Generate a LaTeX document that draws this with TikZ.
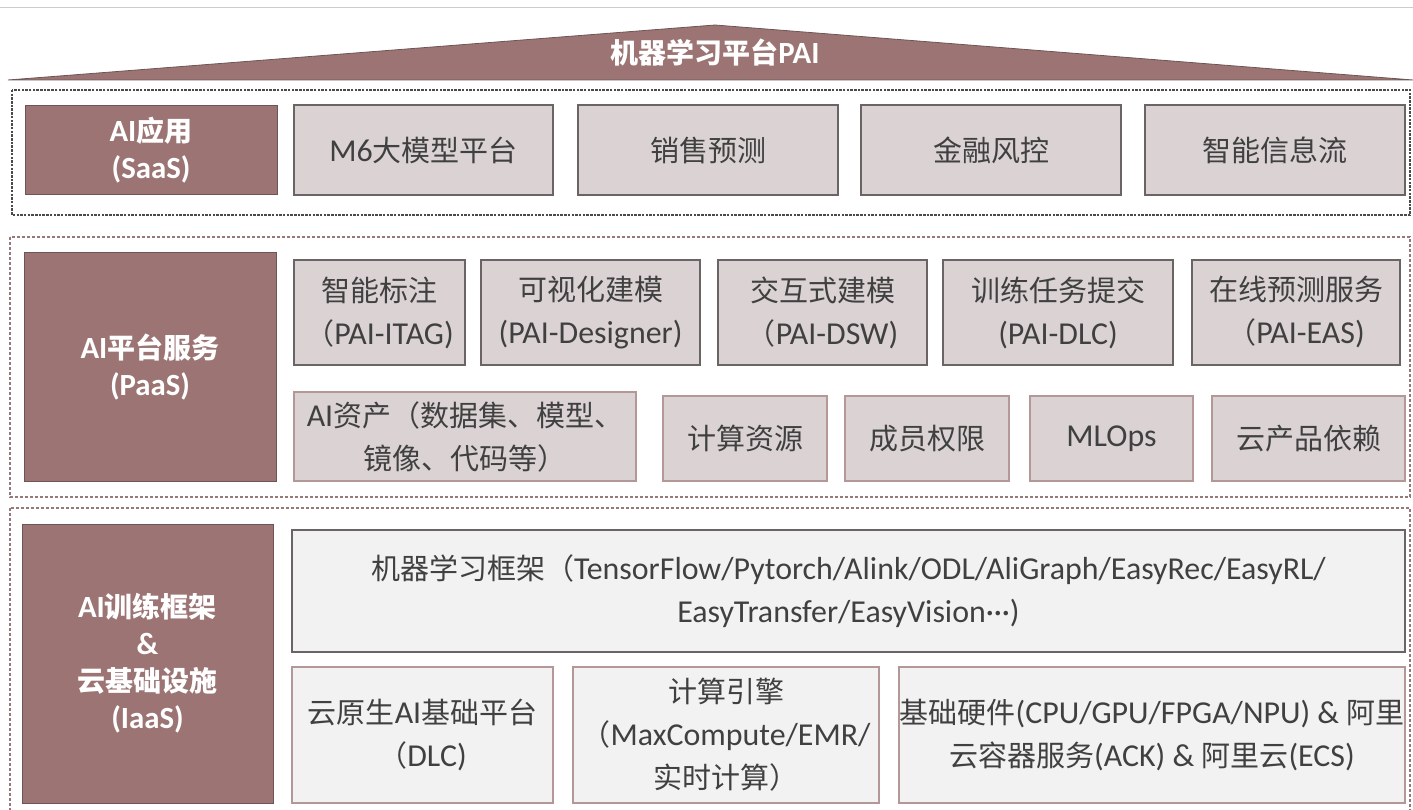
\documentclass[tikz,border=0pt]{standalone}
\usepackage{fontspec}
\setmainfont{Noto Sans CJK SC}
\newfontfamily\latf[Scale=1.1]{Carlito}
\newcommand\lat[1]{{\latf #1}}
\definecolor{mauve}{HTML}{9C7474}
\definecolor{mauvedark}{HTML}{6E5555}
\definecolor{boxfill}{HTML}{DBD3D3}
\definecolor{boxdark}{HTML}{6A6464}
\definecolor{boxpink}{HTML}{B49898}
\definecolor{lightfill}{HTML}{F2F2F2}
\definecolor{txt}{HTML}{404040}
\definecolor{dotc}{HTML}{957878}
\definecolor{dashc}{HTML}{4A4A4A}
\tikzset{
  lblbox/.style={draw=mauvedark, fill=mauve, text=white, line width=1pt, inner sep=0pt,
    font=\bfseries\fontsize{28}{37}\selectfont, align=center},
  gbox/.style={draw=boxdark, fill=boxfill, text=txt, line width=1.2pt, inner sep=0pt,
    font=\fontsize{29}{43}\selectfont, align=center},
  pbox/.style={gbox, draw=boxpink},
  lbox/.style={gbox, fill=lightfill},
  lpbox/.style={gbox, fill=lightfill, draw=boxpink},
  sec1/.style={draw=dashc, line width=1.1pt, dash pattern=on 2.5pt off 1.2pt},
  secdot/.style={draw=dotc, line width=2.6pt, dash pattern=on 2.6pt off 2.4pt},
}
\begin{document}
\begin{tikzpicture}[x=1pt,y=-1pt]
\useasboundingbox (0,0) rectangle (1413,810);
\clip (0,0) rectangle (1413,810);
% top rule
\draw[color=black!20, line width=1pt] (0,8) -- (1413,8);
% roof
\coordinate (rl) at (8,80);
\coordinate (rt) at (715,25);
\coordinate (rr) at (1413,80);
\filldraw[fill=mauve, draw=mauvedark, line width=0.8pt] (rl) -- (rt) -- (rr) -- cycle;
\node[text=white, font=\bfseries\fontsize{28}{30}\selectfont] (title) at (715,53) {机器学习平台\lat{PAI}};
% sections
\draw[sec1] (12,90) rectangle (1410,215);
\draw[secdot] (10,237) rectangle (1410,497);
\draw[secdot] (10,508) rectangle (1410,830);
% SaaS row
\node[lblbox, minimum width=252pt, minimum height=89pt] (saas) at (151,150.5) {\lat{AI}应用\\\lat{(SaaS)}};
\node[gbox, minimum width=259pt, minimum height=90pt] (m6) at (423.5,150) {\lat{M6}大模型平台};
\node[gbox, minimum width=260pt, minimum height=90pt] (xs) at (708,150) {销售预测};
\node[gbox, minimum width=260pt, minimum height=90pt] (jr) at (991,150) {金融风控};
\node[gbox, minimum width=260pt, minimum height=90pt] (zn) at (1275,150) {智能信息流};
% PaaS
\node[lblbox, minimum width=252pt, minimum height=228pt] (paas) at (150,367) {\lat{AI}平台服务\\\lat{(PaaS)}};
\node[gbox, minimum width=171pt, minimum height=105pt] (bz) at (379.5,312.5) {智能标注\\（\lat{PAI-ITAG)}};
\node[gbox, minimum width=219pt, minimum height=105pt] (ksh) at (590.5,312.5) {可视化建模\\\lat{(PAI-Designer)}};
\node[gbox, minimum width=209pt, minimum height=105pt] (jhs) at (822.5,312.5) {交互式建模\\（\lat{PAI-DSW)}};
\node[gbox, minimum width=230pt, minimum height=105pt] (xl) at (1058,312.5) {训练任务提交\\\lat{(PAI-DLC)}};
\node[gbox, minimum width=208pt, minimum height=105pt] (zx) at (1296,312.5) {在线预测服务\\（\lat{PAI-EAS)}};
\node[pbox, minimum width=342pt, minimum height=89pt] (zc) at (465,436.5) {\lat{AI}资产（数据集、模型、\\镜像、代码等）};
\node[pbox, minimum width=164pt, minimum height=85pt] (js) at (745,438.5) {计算资源};
\node[pbox, minimum width=164pt, minimum height=85pt] (cy) at (927,438.5) {成员权限};
\node[pbox, minimum width=163pt, minimum height=85pt] (ml) at (1111.5,438.5) {\lat{MLOps}};
\node[pbox, minimum width=193pt, minimum height=85pt] (yc) at (1308.5,438.5) {云产品依赖};
% IaaS
\node[lblbox, minimum width=251pt, minimum height=279pt] (iaas) at (147.5,663.5) {\lat{AI}训练框架\\\lat{\&}\\云基础设施\\\lat{(IaaS)}};
\node[lbox, minimum width=1113pt, minimum height=122pt] (fw) at (848.5,591) {机器学习框架（\lat{TensorFlow/Pytorch/Alink/ODL/AliGraph/EasyRec/EasyRL/}\\\lat{EasyTransfer/EasyVision···)}};
\node[lpbox, minimum width=261pt, minimum height=136pt] (yys) at (422.5,735) {云原生\lat{AI}基础平台\\（\lat{DLC)}};
\node[lpbox, minimum width=306pt, minimum height=136pt] (jsyq) at (726,735) {计算引擎\\（\lat{MaxCompute/EMR/}\\实时计算）};
\node[lpbox, minimum width=506pt, minimum height=136pt] (jc) at (1152,735) {基础硬件\lat{(CPU/GPU/FPGA/NPU) \& }阿里\\云容器服务\lat{(ACK) \& }阿里云\lat{(ECS)}};
\end{tikzpicture}
\end{document}
